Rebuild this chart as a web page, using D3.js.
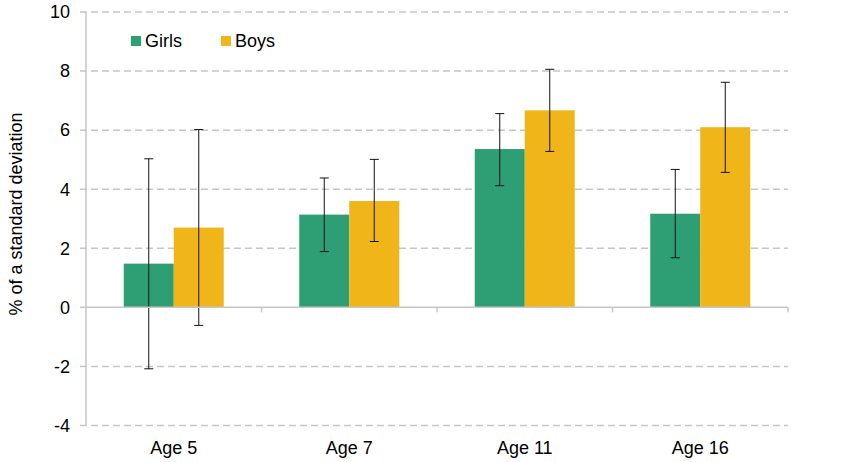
<!DOCTYPE html>
<html>
<head>
<meta charset="utf-8">
<script src="https://cdn.jsdelivr.net/npm/d3@7"></script>
<style>
  html, body { margin: 0; padding: 0; background: #fff; }
  svg { display: block; font-family: "Liberation Sans", Arial, sans-serif; }
</style>
</head>
<body>
<svg id="chart" width="848" height="462"></svg>
<script>
const categories = ["Age 5", "Age 7", "Age 11", "Age 16"];
const seriesNames = ["Girls", "Boys"];
const girls = [1.48, 3.14, 5.36, 3.17];
const girlsLow = [-2.08, 1.89, 4.12, 1.68];
const girlsHigh = [5.03, 4.38, 6.56, 4.67];
const boys = [2.70, 3.60, 6.67, 6.10];
const boysLow = [-0.61, 2.23, 5.28, 4.57];
const boysHigh = [6.02, 5.01, 8.06, 7.62];
const yTicks = [-4, -2, 0, 2, 4, 6, 8, 10];
const colors = ["#2e9e75", "#f0b518"];

const svg = d3.select("#chart");
const FS = 18;

const x = d3.scaleBand().domain(categories).range([86, 788]).paddingInner(0).paddingOuter(0);
const y = d3.scaleLinear().domain([-4, 10]).range([425.5, 12]);
const bandInner = d3.scaleBand().domain(seriesNames).range([0, x.bandwidth()]).paddingInner(0).paddingOuter(0.755);

// gridlines
const gridColor = "#c6c6c6";
svg.append("g").selectAll("line").data(yTicks.filter(t => t !== 0)).join("line")
  .attr("x1", 80).attr("x2", 788)
  .attr("y1", d => y(d)).attr("y2", d => y(d))
  .attr("stroke", gridColor).attr("stroke-width", 1.5)
  .attr("stroke-dasharray", "7,4");

// y axis line
svg.append("line")
  .attr("x1", 86).attr("x2", 86)
  .attr("y1", y(10)).attr("y2", y(-4))
  .attr("stroke", gridColor).attr("stroke-width", 1.5);

svg.append("line").attr("x1", 80).attr("x2", 86).attr("y1", y(0)).attr("y2", y(0))
  .attr("stroke", gridColor).attr("stroke-width", 1.5);

// y tick labels
svg.append("g").selectAll("text").data(yTicks).join("text")
  .attr("x", 70).attr("y", d => y(d)).attr("dy", "0.35em")
  .attr("text-anchor", "end").attr("font-size", FS).attr("fill", "#000")
  .text(d => d);

const data = categories.map((c, i) => ({
  cat: c,
  vals: [
    { s: "Girls", v: girls[i], lo: girlsLow[i], hi: girlsHigh[i], col: colors[0] },
    { s: "Boys", v: boys[i], lo: boysLow[i], hi: boysHigh[i], col: colors[1] }
  ]
}));

const groups = svg.append("g").selectAll("g").data(data).join("g")
  .attr("transform", d => `translate(${x(d.cat)},0)`);

groups.selectAll("rect").data(d => d.vals).join("rect")
  .attr("x", d => bandInner(d.s))
  .attr("width", bandInner.bandwidth())
  .attr("y", d => y(Math.max(0, d.v)))
  .attr("height", d => Math.abs(y(d.v) - y(0)))
  .attr("fill", d => d.col);

// x axis (zero line) and ticks
svg.append("line")
  .attr("x1", 86).attr("x2", 788)
  .attr("y1", y(0)).attr("y2", y(0))
  .attr("stroke", gridColor).attr("stroke-width", 1.5);
const bounds = categories.map(c => x(c) + x.bandwidth());
svg.append("g").selectAll("line").data(bounds).join("line")
  .attr("x1", d => d).attr("x2", d => d)
  .attr("y1", y(0)).attr("y2", y(0) + 5)
  .attr("stroke", gridColor).attr("stroke-width", 1.5);

// error bars
const eb = groups.selectAll("g.eb").data(d => d.vals).join("g").attr("class", "eb");
const cx = d => bandInner(d.s) + bandInner.bandwidth() / 2;
eb.append("line")
  .attr("x1", cx).attr("x2", cx)
  .attr("y1", d => y(d.lo)).attr("y2", d => y(d.hi))
  .attr("stroke", "#111").attr("stroke-width", 1);
eb.append("line")
  .attr("x1", d => cx(d) - 4.5).attr("x2", d => cx(d) + 4.5)
  .attr("y1", d => y(d.hi)).attr("y2", d => y(d.hi))
  .attr("stroke", "#111").attr("stroke-width", 1);
eb.append("line")
  .attr("x1", d => cx(d) - 4.5).attr("x2", d => cx(d) + 4.5)
  .attr("y1", d => y(d.lo)).attr("y2", d => y(d.lo))
  .attr("stroke", "#111").attr("stroke-width", 1);

// x labels
svg.append("g").selectAll("text").data(categories).join("text")
  .attr("x", d => x(d) + x.bandwidth() / 2).attr("y", 454)
  .attr("text-anchor", "middle").attr("font-size", FS).attr("fill", "#000")
  .text(d => d);

// y axis title
svg.append("text")
  .attr("transform", `translate(22,214) rotate(-90)`)
  .attr("text-anchor", "middle").attr("font-size", FS).attr("fill", "#000")
  .text("% of a standard deviation");

// legend
const legendX = [131, 221];
const lg = svg.append("g").selectAll("g").data(seriesNames).join("g")
  .attr("transform", (d, i) => `translate(${legendX[i]},36)`);
lg.append("rect").attr("width", 10).attr("height", 10).attr("fill", (d, i) => colors[i]);
lg.append("text").attr("x", 14).attr("y", 10.5).attr("font-size", FS).attr("fill", "#000").text(d => d);
</script>
</body>
</html>
